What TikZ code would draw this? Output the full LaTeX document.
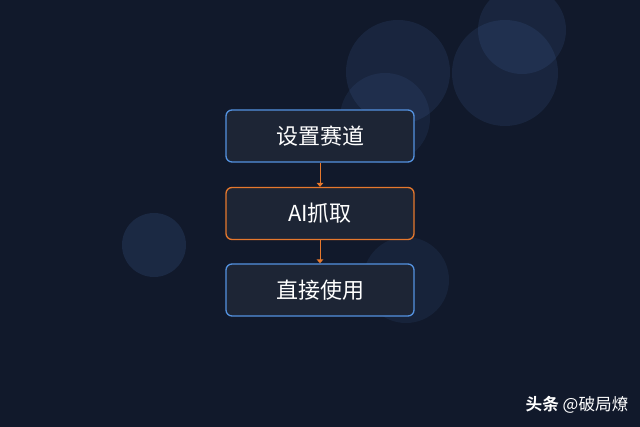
\documentclass[tikz,border=0pt]{standalone}
\usepackage{fontspec}
\setmainfont{Noto Sans CJK SC}
\newfontfamily\cjkbold[BoldFont={Noto Sans CJK SC Bold}]{Noto Sans CJK SC}
\usetikzlibrary{arrows.meta}

\tikzset{every picture/.style={line width=0.75pt}}
\definecolor{bgnavy}{RGB}{17,25,43}
\definecolor{boxfill}{RGB}{29,37,53}
\definecolor{edgeblue}{RGB}{84,146,224}
\definecolor{edgeorange}{RGB}{230,120,45}
\definecolor{bubble}{RGB}{80,125,195}

\begin{document}
\begin{tikzpicture}[x=0.75pt,y=0.75pt,yscale=-1,xscale=1]
					%set diagram left start at 0, and has height of 427
					\fill [bgnavy] (0,0) rectangle (640,427) ;
					\useasboundingbox (0,0) rectangle (640,427) ;
					%Circles
					\fill [bubble, fill opacity=0.13] (398,72) circle (52) ;
					\fill [bubble, fill opacity=0.13] (505,73) circle (53) ;
					\fill [bubble, fill opacity=0.13] (522,30) circle (44) ;
					\fill [bubble, fill opacity=0.11] (385,118) circle (45) ;
					\fill [bubble, fill opacity=0.16] (154,245) circle (32) ;
					\fill [bubble, fill opacity=0.10] (406,280) circle (43) ;
					
					% Text Node
					\draw (320,136) node [draw=edgeblue, fill=boxfill, line width=1pt, rounded corners=4.5pt, minimum width=141pt, minimum height=39pt, inner sep=0.75pt, font=\fontsize{16.5}{19}\selectfont, text=white] (setup) {设置赛道};
					% Text Node
					\draw (320,213.5) node [draw=edgeorange, fill=boxfill, line width=1pt, rounded corners=4.5pt, minimum width=141pt, minimum height=39pt, inner sep=0.75pt, font=\fontsize{16.5}{19}\selectfont, text=white] (grab) {AI抓取};
					% Text Node
					\draw (320,290) node [draw=edgeblue, fill=boxfill, line width=1pt, rounded corners=4.5pt, minimum width=141pt, minimum height=39pt, inner sep=0.75pt, font=\fontsize{16.5}{19}\selectfont, text=white] (use) {直接使用};
					
					%Straight Lines
					\draw [color=edgeorange, -{Triangle[width=5pt,length=3pt]}] (setup.south) -- (grab.north) ;
					\draw [color=edgeorange, -{Triangle[width=5pt,length=3pt]}] (grab.south) -- (use.north) ;
					
					% Text Node
					\draw (630,405) node [anchor=east, inner sep=0.75pt, font=\fontsize{12.5}{14}\selectfont, text=white] (mark) {\cjkbold\textbf{头条} @破局燎};
				\end{tikzpicture}
\end{document}
